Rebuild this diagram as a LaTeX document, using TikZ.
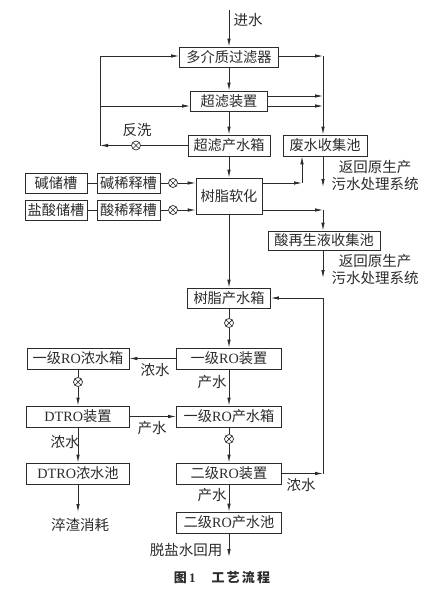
\documentclass[tikz,border=0pt]{standalone}
\usepackage{fontspec}
\setmainfont{Noto Sans CJK SC}
\newfontfamily\latinfont{Liberation Serif}
\usetikzlibrary{arrows.meta, positioning}
\definecolor{inkline}{HTML}{2b2b2b}
\newcommand{\latintext}[1]{{\latinfont #1}}
\tikzset{
    box/.style={draw=inkline, line width=0.8pt, inner sep=0pt, minimum height=20pt,
                text=inkline, font=\fontsize{14.2}{16}\selectfont},
    valve/.style={circle, draw=inkline, line width=0.7pt, minimum size=9pt, inner sep=0pt,
                  path picture={\draw[inkline, line width=0.7pt]
                    (path picture bounding box.north west) -- (path picture bounding box.south east)
                    (path picture bounding box.north east) -- (path picture bounding box.south west);}},
    pipe/.style={draw=inkline, line width=0.8pt},
    flow/.style={pipe, -{Latex[length=8pt,width=3.5pt]}},
    lbl/.style={inner sep=0pt, text=inkline, font=\fontsize{14.5}{17}\selectfont},
}

\begin{document}
\begin{tikzpicture}[x=1pt, y=-1pt]
    \useasboundingbox (0,0) rectangle (443,591);

    % pretreatment
    \node[box, minimum width=99pt] (mmf) at (229,57) {多介质过滤器};
    \node[box, minimum width=77pt] (uf) at (229,101) {超滤装置};
    \node[box, minimum width=82pt, minimum height=21pt] (uftank) at (229,145.5) {超滤产水箱};
    \node[box, minimum width=84pt, minimum height=21pt] (waste) at (325,145.5) {废水收集池};
    \node[box, minimum width=66pt, minimum height=36pt] (resin) at (229,196) {树脂软化};
    \node[box, minimum width=62pt] (alkali) at (56,183) {碱储槽};
    \node[box, minimum width=63pt] (alkalidil) at (128.5,183) {碱稀释槽};
    \node[box, minimum width=62pt] (acid) at (56,210) {盐酸储槽};
    \node[box, minimum width=63pt] (aciddil) at (128.5,210) {酸稀释槽};
    \node[box, minimum width=112pt, minimum height=19pt] (acidpool) at (324,240.5) {酸再生液收集池};
    \node[box, minimum width=83pt] (resintank) at (229,298) {树脂产水箱};

    % RO section
    \node[box, minimum width=105pt, minimum height=21pt] (roone) at (229,358.5) {一级\latintext{RO}装置};
    \node[box, minimum width=102pt, minimum height=21pt] (roconc) at (78,358.5) {一级\latintext{RO}浓水箱};
    \node[box, minimum width=103pt, minimum height=21pt] (dtro) at (78,416.5) {\latintext{DTRO}装置};
    \node[box, minimum width=105pt, minimum height=21pt] (roonetank) at (229,416.5) {一级\latintext{RO}产水箱};
    \node[box, minimum width=103pt, minimum height=21pt] (dtropool) at (78,473.5) {\latintext{DTRO}浓水池};
    \node[box, minimum width=105pt, minimum height=21pt] (rotwo) at (229,473.5) {二级\latintext{RO}装置};
    \node[box, minimum width=105pt, minimum height=21pt] (rotwopool) at (229,522.5) {二级\latintext{RO}产水池};

    % valves
    \node[valve] (vback) at (136,145.5) {};
    \node[valve] (valkali) at (173,183) {};
    \node[valve] (vacid) at (173,210) {};
    \node[valve] (vone) at (229,323) {};
    \node[valve] (vconc) at (78,382) {};
    \node[valve] (vtwo) at (229,439) {};

    % free ends and bends
    \coordinate (inlet) at (229,10);
    \coordinate (rtop) at (323,56);
    \coordinate (ufa) at (323,96);
    \coordinate (ufb) at (323,106);
    \coordinate (ltop) at (100,56);
    \coordinate (lmid) at (100,106);
    \coordinate (lbot) at (100,145.5);
    \coordinate (bendw) at (302,183);
    \coordinate (benda) at (323,210);
    \coordinate (retone) at (323,187);
    \coordinate (rettwo) at (323,278);
    \coordinate (rbot) at (323,473.5);
    \coordinate (rup) at (323,298);
    \coordinate (outlet) at (229,557);
    \coordinate (slag) at (78,512);

    % main line
    \draw[flow] (inlet) -- (mmf.north);
    \draw[flow] (mmf) -- (uf);
    \draw[flow] (uf) -- (uftank);
    \draw[flow] (uftank) -- (resin);
    \draw[flow] (resin) -- (resintank);
    \draw[pipe] (resintank) -- (vone);
    \draw[flow] (vone) -- (roone);
    \draw[flow] (roone) -- (roonetank);
    \draw[pipe] (roonetank) -- (vtwo);
    \draw[flow] (vtwo) -- (rotwo);
    \draw[flow] (rotwo) -- (rotwopool);
    \draw[flow] (rotwopool) -- (outlet);

    % waste water
    \draw[flow] (mmf.east |- rtop) -- (rtop);
    \draw[flow] (uf.east |- ufa) -- (ufa);
    \draw[flow] (uf.east |- ufb) -- (ufb);
    \draw[flow] (rtop) -- (rtop |- waste.north);
    \draw[flow] (rtop |- waste.south) -- (retone);
    \draw[flow] (resin.east |- bendw) -- (bendw);
    \draw[flow] (bendw) -- (bendw |- waste.south);
    \draw[flow] (resin.east |- benda) -- (benda);
    \draw[flow] (benda) -- (benda |- acidpool.north);
    \draw[flow] (benda |- acidpool.south) -- (rettwo);

    % backwash
    \draw[pipe] (uftank) -- (vback);
    \draw[flow] (vback) -- (lbot);
    \draw[pipe] (lbot) -- (ltop);
    \draw[flow] (ltop) -- (mmf.west |- ltop);
    \draw[flow] (lmid) -- (uf.west |- lmid);

    % regeneration
    \draw[pipe] (alkali) -- (alkalidil);
    \draw[pipe] (alkalidil) -- (valkali);
    \draw[flow] (valkali) -- (resin.west |- valkali);
    \draw[pipe] (acid) -- (aciddil);
    \draw[pipe] (aciddil) -- (vacid);
    \draw[flow] (vacid) -- (resin.west |- vacid);

    % concentrate
    \draw[flow] (roone) -- (roconc);
    \draw[pipe] (roconc) -- (vconc);
    \draw[flow] (vconc) -- (dtro);
    \draw[flow] (dtro) -- (roonetank);
    \draw[flow] (dtro) -- (dtropool);
    \draw[flow] (dtropool) -- (slag);
    \draw[flow] (rotwo) -- (rbot);
    \draw[pipe] (rbot) -- (rup);
    \draw[flow] (rup) -- (resintank.east |- rup);

    % labels
    \node[lbl] (inletlbl) at (248,20) {进水};
    \node[lbl] (backlbl) at (137,130) {反洗};
    \node[lbl, align=center] (retonelbl) at (375,175.5) {返回原生产\\污水处理系统};
    \node[lbl, align=center] (rettwolbl) at (375,269) {返回原生产\\污水处理系统};
    \node[lbl] (conclbla) at (155,370) {浓水};
    \node[lbl] (prodlbla) at (212,382) {产水};
    \node[lbl] (prodlblb) at (152,428) {产水};
    \node[lbl] (conclblb) at (65,442) {浓水};
    \node[lbl] (conclblc) at (301,485) {浓水};
    \node[lbl] (prodlblc) at (212,495) {产水};
    \node[lbl] (outletlbl) at (186,550) {脱盐水回用};
    \node[lbl] (slaglbl) at (80,525) {淬渣消耗};
    \node[lbl, font=\fontsize{13}{15}\selectfont\bfseries] (caption) at (222,578)
        {图\,\latintext{\bfseries 1}\quad\ 工\,艺\,流\,程};
\end{tikzpicture}
\end{document}
